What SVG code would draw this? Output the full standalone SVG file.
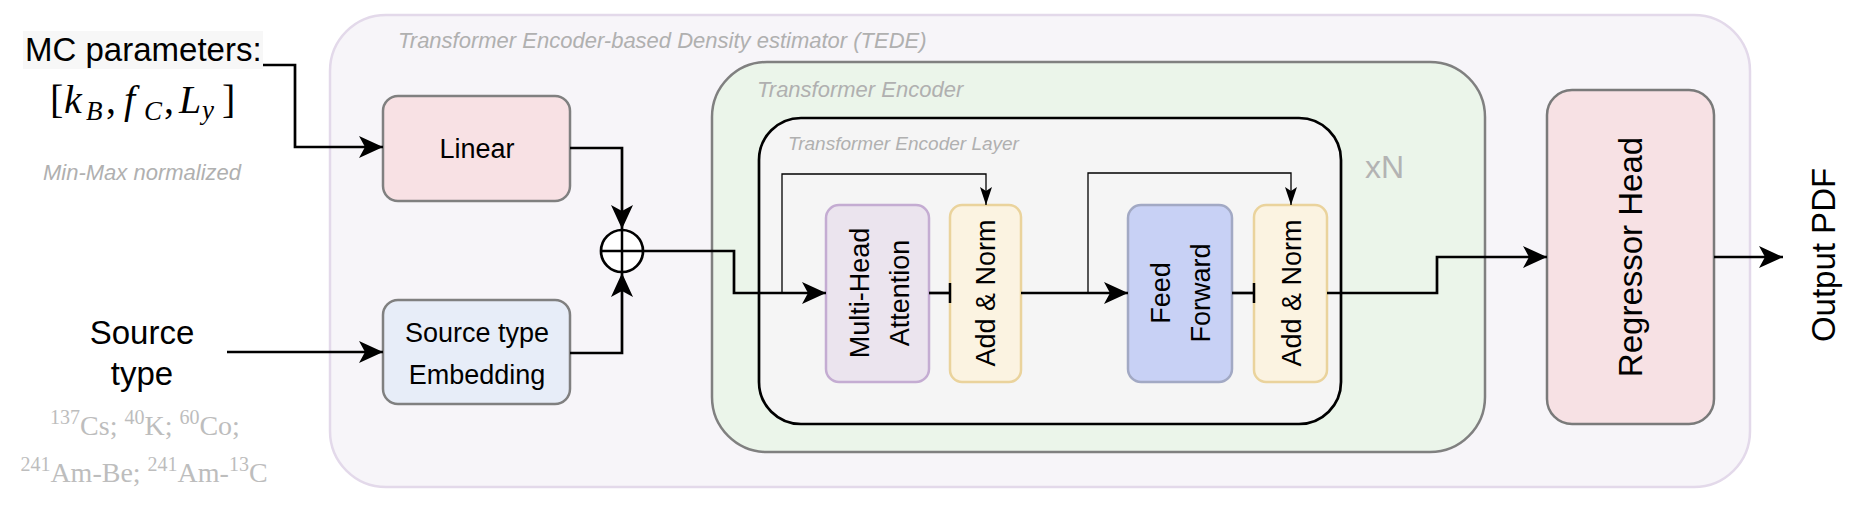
<svg xmlns="http://www.w3.org/2000/svg" width="1863" height="509" viewBox="0 0 1863 509">
<style>
.sans{font-family:"Liberation Sans",Arial,Helvetica,sans-serif}
.serif{font-family:"Liberation Serif","Times New Roman",serif}
.lbl{font-family:"Liberation Sans",Arial,Helvetica,sans-serif;fill:#b0b0b0;font-style:italic}
.big{font-family:"Liberation Sans",Arial,Helvetica,sans-serif;font-size:33px;fill:#000}
.mid{font-family:"Liberation Sans",Arial,Helvetica,sans-serif;font-size:27px;fill:#000}
.conn{fill:none;stroke:#000;stroke-width:2.7}
.thin{fill:none;stroke:#000;stroke-width:1.3}
.iso{font-family:"Liberation Serif","Times New Roman",serif;font-size:28px;fill:#bdbdbd}
</style>
<defs>
<marker id="arr" markerUnits="userSpaceOnUse" markerWidth="26" markerHeight="24" refX="24" refY="11" orient="auto">
<path d="M0,0 L24,11 L0,22 L6,11 Z" fill="#000"/>
</marker>
<marker id="arrS" markerUnits="userSpaceOnUse" markerWidth="20" markerHeight="14" refX="18" refY="6" orient="auto">
<path d="M0,0 L18,6 L0,12 L4,6 Z" fill="#000"/>
</marker>
<marker id="tick" markerUnits="userSpaceOnUse" markerWidth="4" markerHeight="24" refX="2" refY="12" orient="auto">
<path d="M2,2 V22" stroke="#000" stroke-width="2.5"/>
</marker>
</defs>

<g id="tede">
<rect x="330" y="15" width="1420" height="472" rx="56" fill="#f7f5f9" stroke="#e3d9ea" stroke-width="2.5"/>
<text class="lbl" x="398" y="48" font-size="22">Transformer Encoder-based Density estimator (TEDE)</text>
</g>

<g id="encoder">
<rect x="712" y="62" width="773" height="390" rx="55" fill="#ebf5ea" stroke="#808080" stroke-width="2.5"/>
<text class="lbl" x="757" y="97" font-size="22">Transformer Encoder</text>
<text class="sans" x="1365" y="178" font-size="32" fill="#b3b3b3">xN</text>
</g>

<g id="encoder-layer">
<rect x="759" y="118" width="582" height="306" rx="42" fill="#f5f5f5" stroke="#000" stroke-width="2.7"/>
<text class="lbl" x="788" y="150" font-size="19">Transformer Encoder Layer</text>
</g>

<g id="mc-params">
<rect x="23" y="31" width="240" height="38" fill="#f7f7f7"/>
<text class="big" x="25" y="61">MC parameters:</text>
<text class="serif" y="113" font-size="40" fill="#000"><tspan x="50" font-size="40">[</tspan><tspan x="64" font-style="italic">k</tspan><tspan x="86" y="120" font-size="27" font-style="italic">B</tspan><tspan x="106" y="113">,</tspan><tspan x="124" font-style="italic">f</tspan><tspan x="144" y="120" font-size="27" font-style="italic">C</tspan><tspan x="164" y="113">,</tspan><tspan x="179" font-style="italic">L</tspan><tspan x="202" y="119" font-size="27" font-style="italic">y</tspan><tspan x="222" y="113" font-size="40">]</tspan></text>
<text class="lbl" x="43" y="180" font-size="22" fill="#b8b8b8">Min-Max normalized</text>
</g>

<g id="source-type">
<text class="big" x="142" y="344" text-anchor="middle">Source</text>
<text class="big" x="142" y="385" text-anchor="middle">type</text>
<text class="iso" x="145" y="435" text-anchor="middle"><tspan font-size="20" dy="-11">137</tspan><tspan dy="11">Cs; </tspan><tspan font-size="20" dy="-11">40</tspan><tspan dy="11">K; </tspan><tspan font-size="20" dy="-11">60</tspan><tspan dy="11">Co;</tspan></text>
<text class="iso" x="144" y="482" text-anchor="middle"><tspan font-size="20" dy="-11">241</tspan><tspan dy="11">Am-Be; </tspan><tspan font-size="20" dy="-11">241</tspan><tspan dy="11">Am-</tspan><tspan font-size="20" dy="-11">13</tspan><tspan dy="11">C</tspan></text>
</g>

<g id="linear">
<rect x="383" y="96" width="187" height="105" rx="15" fill="#f8e1e4" stroke="#808080" stroke-width="2.5"/>
<text class="mid" x="477" y="158" text-anchor="middle">Linear</text>
</g>

<g id="embedding">
<rect x="383" y="300" width="187" height="104" rx="15" fill="#e7edf8" stroke="#808080" stroke-width="2.5"/>
<text class="mid" x="477" y="342" text-anchor="middle">Source type</text>
<text class="mid" x="477" y="384" text-anchor="middle">Embedding</text>
</g>

<g id="sum">
<circle cx="622" cy="251" r="21" fill="#fff" stroke="#000" stroke-width="2.7"/>
<path d="M601,251 H643 M622,230 V272" stroke="#000" stroke-width="2.5"/>
</g>

<g id="mha">
<rect x="826" y="205" width="103" height="177" rx="13" fill="#ebe4ee" stroke="#c4acd2" stroke-width="2.5"/>
<text class="mid" transform="translate(877,293) rotate(-90)" text-anchor="middle"><tspan x="0" y="-8">Multi-Head</tspan><tspan x="0" y="32">Attention</tspan></text>
</g>

<g id="addnorm1">
<rect x="950" y="205" width="71" height="177" rx="12" fill="#fbf3e1" stroke="#ead39c" stroke-width="2.5"/>
<text class="mid" transform="translate(985,293) rotate(-90)" text-anchor="middle" y="10">Add &amp; Norm</text>
</g>

<g id="feedforward">
<rect x="1128" y="205" width="104" height="177" rx="13" fill="#c8d1f5" stroke="#a2a9c4" stroke-width="2.5"/>
<text class="mid" transform="translate(1180,293) rotate(-90)" text-anchor="middle"><tspan x="0" y="-10">Feed</tspan><tspan x="0" y="30">Forward</tspan></text>
</g>

<g id="addnorm2">
<rect x="1254" y="205" width="73" height="177" rx="12" fill="#fbf3e1" stroke="#ead39c" stroke-width="2.5"/>
<text class="mid" transform="translate(1291,293) rotate(-90)" text-anchor="middle" y="10">Add &amp; Norm</text>
</g>

<g id="regressor">
<rect x="1547" y="90" width="167" height="334" rx="25" fill="#f7e1e4" stroke="#7a7a7a" stroke-width="2.5"/>
<text class="big" font-size="32" transform="translate(1642,257) rotate(-90)" text-anchor="middle">Regressor Head</text>
</g>

<g id="output">
<text class="big" transform="translate(1835,255) rotate(-90)" text-anchor="middle">Output PDF</text>
</g>

<g id="connectors">
<path class="conn" d="M263,65 H295 V147 H383" marker-end="url(#arr)"/>
<path class="conn" d="M227,352 H383" marker-end="url(#arr)"/>
<path class="conn" d="M570,148 H622 V229" marker-end="url(#arr)"/>
<path class="conn" d="M570,353 H622 V273" marker-end="url(#arr)"/>
<path class="conn" d="M643,251 H734 V293 H826" marker-end="url(#arr)"/>
<path class="thin" d="M782,293 V174 H986 V205" marker-end="url(#arrS)"/>
<path class="conn" d="M929,293 H950" marker-end="url(#tick)"/>
<path class="conn" d="M1021,293 H1128" marker-end="url(#arr)"/>
<path class="thin" d="M1088,293 V173 H1291 V205" marker-end="url(#arrS)"/>
<path class="conn" d="M1232,293 H1254" marker-end="url(#tick)"/>
<path class="conn" d="M1327,293 H1437 V257 H1547" marker-end="url(#arr)"/>
<path class="conn" d="M1714,257 H1783" marker-end="url(#arr)"/>
</g>
</svg>
